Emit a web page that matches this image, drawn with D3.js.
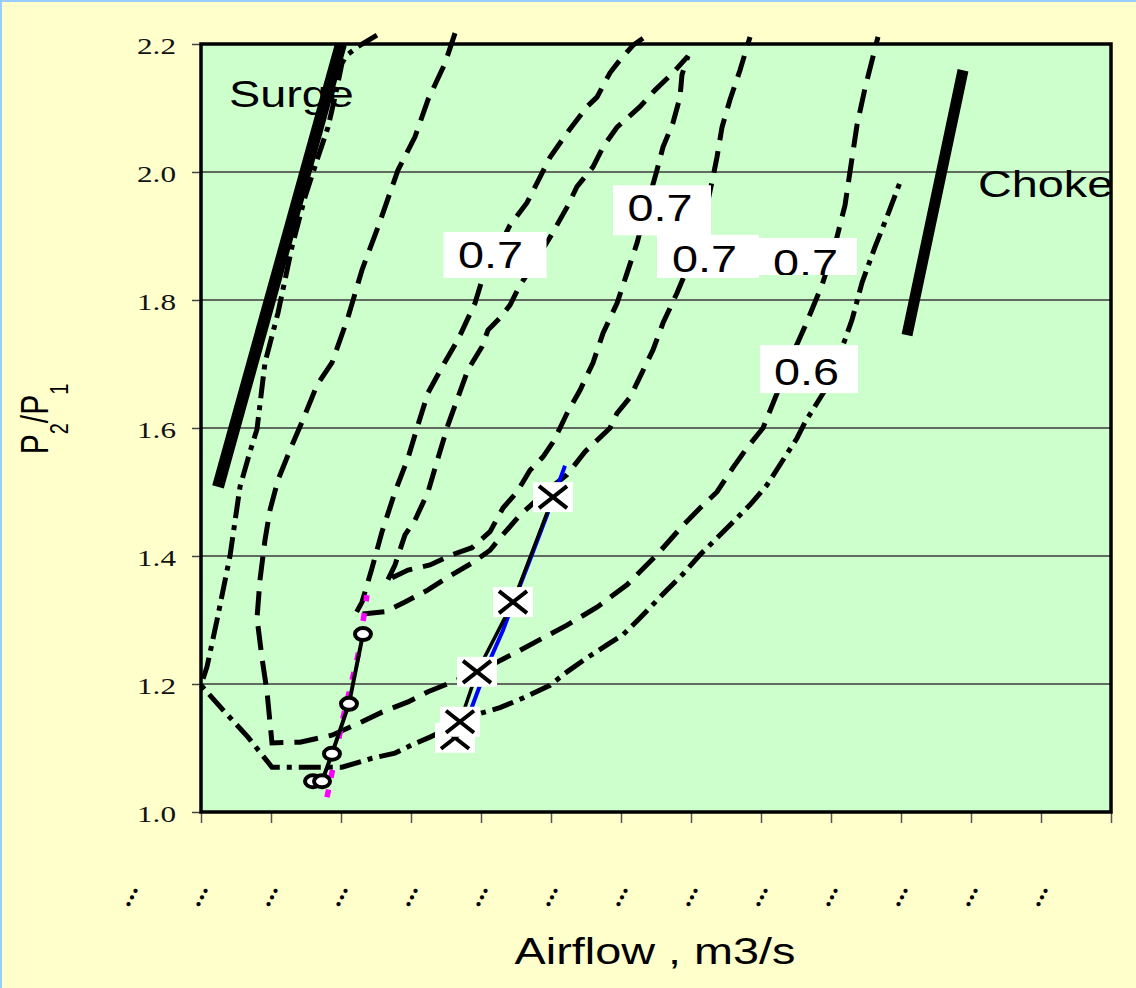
<!DOCTYPE html>
<html><head><meta charset="utf-8">
<script src="https://cdn.jsdelivr.net/npm/d3@7"></script>
<style>
html,body{margin:0;padding:0;background:#FFFFCC;}
svg{display:block;}
</style></head><body>
<svg id="chart" width="1136" height="988"></svg>
<script>
// ---------- data ----------
const yTicks = [1.0, 1.2, 1.4, 1.6, 1.8, 2.0, 2.2];
const xTickValues = [0,1,2,3,4,5,6,7,8,9,10,11,12,13];
const xTickLabels = ["...","...","...","...","...","...","...","...","...","...","...","...","...","..."];

// outer contour (dash-dot)
const curveOuter = [[2.514,2.214],[2.271,2.198],[2.086,2.183],[2.014,2.170],[1.914,2.117],[1.814,2.070],[1.671,2.023],[1.486,1.961],[1.3,1.883],[1.1,1.780],[0.914,1.702],[0.8,1.598],[0.7,1.563],[0.557,1.508],[0.414,1.4],[0.229,1.3],[0.086,1.227],[0,1.198],[0.343,1.156],[0.671,1.117],[1.014,1.070],[2.014,1.070],[2.443,1.084],[2.771,1.092],[3.014,1.105],[3.271,1.117],[3.586,1.133],[3.957,1.153],[4.271,1.163],[4.6,1.178],[4.986,1.198],[5.229,1.219],[5.514,1.241],[5.8,1.261],[6.029,1.277],[6.271,1.303],[6.657,1.347],[6.886,1.372],[7.129,1.402],[7.371,1.428],[7.6,1.453],[7.843,1.480],[8.086,1.511],[8.314,1.55],[8.514,1.584],[8.629,1.609],[8.914,1.659],[9.2,1.738],[9.3,1.769],[9.443,1.827],[9.629,1.883],[9.8,1.930],[9.986,1.984]];

// second contour (dashed)
const curveSecond = [[3.629,2.217],[3.486,2.170],[3.243,2.113],[3.057,2.055],[2.814,2.003],[2.529,1.914],[2.3,1.847],[2.1,1.773],[1.871,1.702],[1.657,1.667],[1.457,1.613],[1.3,1.573],[1.1,1.519],[0.986,1.472],[0.914,1.425],[0.843,1.363],[0.8,1.303],[0.871,1.241],[0.943,1.188],[1.014,1.108],[1.414,1.109],[1.871,1.120],[2.3,1.141],[2.586,1.156],[2.957,1.172],[3.243,1.188],[3.586,1.203],[3.957,1.219],[4.514,1.25],[4.886,1.272],[5.229,1.292],[5.657,1.320],[6.086,1.355],[6.514,1.402],[6.886,1.448],[7.129,1.475],[7.371,1.5],[7.6,1.538],[7.8,1.569],[8.029,1.6],[8.243,1.658],[8.414,1.706],[8.629,1.759],[8.871,1.823],[9.057,1.886],[9.2,1.948],[9.286,2.011],[9.371,2.073],[9.486,2.131],[9.671,2.211]];

// third contour (dashed)
const curveThird = [[6.314,2.209],[6.171,2.198],[5.986,2.175],[5.843,2.155],[5.657,2.117],[5.514,2.102],[5.229,2.061],[4.986,2.023],[4.843,1.992],[4.657,1.952],[4.414,1.917],[4.2,1.870],[4.014,1.831],[3.914,1.795],[3.671,1.738],[3.443,1.695],[3.243,1.655],[3.1,1.605],[2.957,1.553],[2.771,1.5],[2.586,1.438],[2.443,1.381],[2.3,1.328],[2.2,1.308],[2.629,1.313],[2.914,1.328],[3.243,1.347],[3.557,1.369],[3.871,1.389],[4.129,1.409],[4.271,1.428],[4.557,1.464],[4.986,1.506],[5.229,1.527],[5.486,1.563],[5.843,1.6],[5.943,1.623],[6.129,1.648],[6.271,1.680],[6.457,1.722],[6.6,1.764],[6.8,1.811],[6.986,1.859],[7.129,1.902],[7.229,1.948],[7.314,1.992],[7.371,2.023],[7.443,2.070],[7.557,2.113],[7.7,2.159],[7.843,2.211]];

// inner island (dashed)
const curveInner = [[2.671,1.363],[2.771,1.386],[2.914,1.433],[3.057,1.456],[3.243,1.5],[3.386,1.553],[3.529,1.605],[3.671,1.648],[3.814,1.691],[4.014,1.727],[4.1,1.753],[4.271,1.772],[4.414,1.792],[4.557,1.823],[4.771,1.859],[4.986,1.898],[5.229,1.945],[5.371,1.977],[5.6,2.008],[5.743,2.039],[5.943,2.070],[6.271,2.102],[6.486,2.128],[6.743,2.155],[6.957,2.181],[6.871,2.152],[6.843,2.117],[6.743,2.077],[6.6,2.039],[6.514,2.003],[6.414,1.964],[6.314,1.925],[6.229,1.889],[6.086,1.842],[5.943,1.795],[5.743,1.748],[5.6,1.702],[5.414,1.659],[5.229,1.623],[5.129,1.6],[5.029,1.578],[4.886,1.555],[4.7,1.534],[4.514,1.5],[4.314,1.475],[4.129,1.438],[3.871,1.413],[3.586,1.402],[3.271,1.386],[2.957,1.378],[2.671,1.363]];

// operating line (magenta dashed)
const lineMagenta = [[1.8,1.023],[2.029,1.147],[2.243,1.245],[2.371,1.339]];
// circle-marker series
const seriesCircles = [[1.6,1.048],[1.729,1.048],[1.871,1.091],[2.114,1.169],[2.314,1.278]];
// X-marker series
const seriesCross = [[3.629,1.116],[3.7,1.141],[3.943,1.219],[4.457,1.328],[5.029,1.492]];
// blue fitted line
const lineBlue = [[3.743,1.116],[3.843,1.156],[3.986,1.198],[4.157,1.245],[4.314,1.284],[4.486,1.334],[4.7,1.394],[4.943,1.464],[5.2,1.541]];
// surge and choke limits
const surgeLine = [[0.243,1.508],[2.0,2.2]];
const chokeLine = [[10.086,1.745],[10.886,2.159]];

// contour labels
const labelTexts = ["0.7","0.7","0.7","0.7","0.6"];
const labelX = [4.136, 6.557, 7.193, 8.636, 8.65];
const labelY = [1.85, 1.923, 1.844, 1.8375, 1.667];

// ---------- layout ----------
const W = 1136, H = 988;
const margin = {left:201, top:44, right:25, bottom:176};
const svg = d3.select("#chart");
const x = d3.scaleLinear().domain([0,13]).range([margin.left, W - margin.right]);
const y = d3.scaleLinear().domain([1.0,2.2]).range([H - margin.bottom, margin.top]);
const SX = 1.3; // horizontal text stretch
const sans = "'Liberation Sans', Arial, sans-serif";
const serif = "'Liberation Serif', 'Times New Roman', serif";

svg.append("rect").attr("width",W).attr("height",H).attr("fill","#FFFFCC");
svg.append("line").attr("x1",1).attr("y1",0).attr("x2",1).attr("y2",H).attr("stroke","#99CCFF").attr("stroke-width",2);
svg.append("line").attr("x1",0).attr("y1",1).attr("x2",W).attr("y2",1).attr("stroke","#99CCFF").attr("stroke-width",2);

// plot area
svg.append("rect").attr("x",x(0)).attr("y",y(2.2)).attr("width",x(13)-x(0)).attr("height",y(1.0)-y(2.2)).attr("fill","#CCFFCC");

// gridlines
svg.append("g").selectAll("line").data(yTicks.filter(v=>v>1.0 && v<2.2)).join("line")
  .attr("x1",x(0)).attr("x2",x(13)).attr("y1",d=>y(d)).attr("y2",d=>y(d))
  .attr("stroke","#3a3a3a").attr("stroke-width",1.3);

// axes
const yAxis = svg.append("g").attr("transform",`translate(${x(0)},0)`)
  .call(d3.axisLeft(y).tickValues(yTicks).tickSize(9).tickFormat(d3.format(".1f")));
yAxis.select(".domain").remove();
yAxis.selectAll(".tick line").attr("stroke","#444").attr("stroke-width",1.5);
yAxis.selectAll(".tick text").attr("x",null).attr("dy",null)
  .attr("transform",`translate(-25,9) scale(${SX},1)`)
  .attr("font-family",serif).attr("font-size",24).attr("fill","#111").attr("text-anchor","end");

const xAxis = svg.append("g").attr("transform",`translate(0,${y(1.0)})`)
  .call(d3.axisBottom(x).tickValues(xTickValues).tickSize(11).tickFormat((d,i)=>xTickLabels[i]));
xAxis.select(".domain").remove();
xAxis.selectAll(".tick line").attr("stroke","#555").attr("stroke-width",1.5);
xAxis.selectAll(".tick text").attr("y",null).attr("dy",null)
  .attr("transform","translate(-73,83) rotate(-62)")
  .attr("font-family",serif).attr("font-size",26).attr("font-weight","bold").attr("letter-spacing","1px")
  .attr("fill","#000").attr("text-anchor","middle").attr("dominant-baseline","middle");

// region texts
function stretchedText(txt, px, py, size, anchor){
  return svg.append("text").text(txt)
    .attr("transform",`translate(${px},${py}) scale(${SX},1)`)
    .attr("font-family",sans).attr("font-size",size).attr("text-anchor",anchor||"start").attr("fill","#000");
}
stretchedText("Surge", x(0.4), y(2.102), 36);
stretchedText("Choke", x(11.1), y(1.961), 36);

// curves
const line = d3.line().x(d=>x(d[0])).y(d=>y(d[1]));
function path(data, color, width, dash){
  return svg.append("path").datum(data).attr("d",line).attr("fill","none")
    .attr("stroke",color).attr("stroke-width",width)
    .attr("stroke-dasharray",dash||null).attr("stroke-linejoin","miter").attr("stroke-linecap","butt");
}
path(curveOuter, "#000", 5, "22,7,5,7");
path(curveSecond, "#000", 5, "24,11");
path(curveThird, "#000", 5, "22,11");
path(curveInner, "#000", 5, "22,11");
path(lineMagenta, "#FF00FF", 5.5, "8,12");
path(lineBlue, "#0000FF", 4);
path(seriesCross, "#000", 3.5);
path(seriesCircles, "#000", 4);
path(surgeLine, "#000", 12);
path(chokeLine, "#000", 11);

// contour labels with white boxes
const boxes = [{dx:-47,dy:-36,w:103,h:46},{dx:-47,dy:-36,w:98,h:50},{dx:-47.5,dy:-37,w:102,h:43},{dx:-46.5,dy:-38,w:98,h:37},{dx:-46.5,dy:-40,w:98,h:48}];
const defs = svg.append("defs");
labelTexts.forEach((t,i)=>{
  const cx = x(labelX[i]), cy = y(labelY[i]), b = boxes[i];
  defs.append("clipPath").attr("id","lc"+i).append("rect")
    .attr("x",cx+b.dx).attr("y",cy+b.dy).attr("width",b.w).attr("height",b.h);
  svg.append("rect").attr("x",cx+b.dx).attr("y",cy+b.dy).attr("width",b.w).attr("height",b.h).attr("fill","#fff");
  svg.append("g").attr("clip-path",`url(#lc${i})`).append("text").text(t)
    .attr("transform",`translate(${cx},${cy}) scale(${SX},1)`)
    .attr("font-family",sans).attr("font-size",36).attr("text-anchor","middle").attr("fill","#000");
});

// X markers
const cross = svg.append("g").selectAll("g").data(seriesCross).join("g")
  .attr("transform",d=>`translate(${x(d[0])},${y(d[1])})`);
cross.append("rect").attr("x",-20).attr("y",-15).attr("width",40).attr("height",30).attr("fill","#fff");
cross.append("path").attr("d","M-14,-11L14,11M-14,11L14,-11").attr("stroke","#000").attr("stroke-width",4).attr("fill","none");

// circle markers
svg.append("g").selectAll("ellipse").data(seriesCircles).join("ellipse")
  .attr("cx",d=>x(d[0])).attr("cy",d=>y(d[1])).attr("rx",8).attr("ry",6)
  .attr("fill","#fff").attr("stroke","#000").attr("stroke-width",4);

// plot border
svg.append("rect").attr("x",x(0)).attr("y",y(2.2)).attr("width",x(13)-x(0)).attr("height",y(1.0)-y(2.2))
  .attr("fill","none").attr("stroke","#000").attr("stroke-width",3.5);

// axis titles
svg.append("text").attr("transform",`translate(48,419) scale(${SX},1) rotate(-90)`)
  .attr("font-family",sans).attr("font-size",30).attr("text-anchor","middle").attr("fill","#000")
  .call(t=>{
    t.append("tspan").text("P");
    t.append("tspan").text("2").attr("font-size",20).attr("dy",15);
    t.append("tspan").text("/P").attr("dy",-15);
    t.append("tspan").text("1").attr("font-size",20).attr("dy",15);
  });
stretchedText("Airflow , m3/s", 655, 964, 36, "middle");
</script>
</body></html>
